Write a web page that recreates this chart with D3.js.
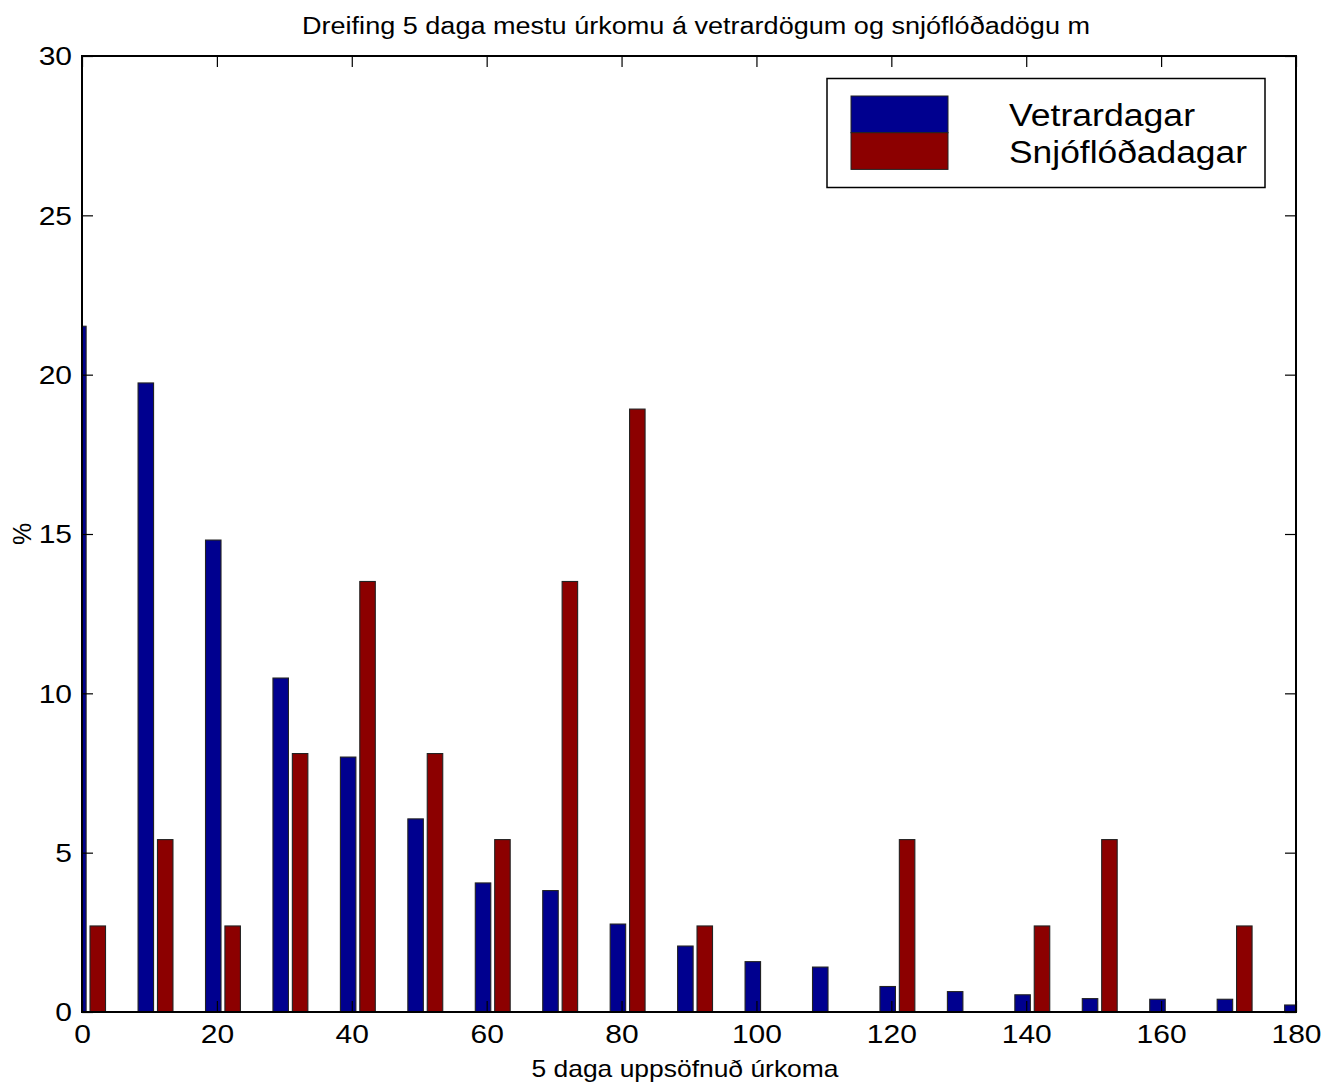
<!DOCTYPE html>
<html>
<head>
<meta charset="utf-8">
<script src="https://cdn.jsdelivr.net/npm/d3@7"></script>
<style>
html,body{margin:0;padding:0;background:#fff;}
text{font-family:"Liberation Sans",Arial,sans-serif;fill:#000;}
</style>
</head>
<body>
<svg id="chart" width="1336" height="1086"></svg>
<script>
// ---- data ----
const categories = [0,10,20,30,40,50,60,70,80,90,100,110,120,130,140,150,160,170,180];
const vetrardagar = [21.52,19.74,14.81,10.48,8.0,6.06,4.05,3.81,2.76,2.07,1.58,1.41,0.80,0.64,0.54,0.42,0.40,0.40,0.22];
const snjofloedadagar = [2.70,5.41,2.70,8.11,13.51,8.11,5.41,13.51,18.92,2.70,0,0,5.41,0,2.70,5.41,0,2.70,0];
const seriesNames = ["Vetrardagar","Snjóflóðadagar"];
const xTicks = [0,20,40,60,80,100,120,140,160,180];
const yTicks = [0,5,10,15,20,25,30];
const title = "Dreifing 5 daga mestu úrkomu á vetrardögum og snjóflóðadögu m";
const xLabel = "5 daga uppsöfnuð úrkoma";
const yLabel = "%";

// ---- layout ----
const L = 82, T = 56, R = 1296, B = 1012;
const colors = ["#00008F","#8C0000"];
const svg = d3.select("#chart");
const x = d3.scaleLinear().domain([0,180]).range([L,R]);
const y = d3.scaleLinear().domain([0,30]).range([B,T]);
const groupShift = 0.9;   // bin-center shift (data units)
const barOff = 9.7, barW = 15.5, tickLen = 11;

function widen(sel, factor){
  sel.each(function(){
    const w = this.getComputedTextLength();
    d3.select(this).attr("textLength", w*factor).attr("lengthAdjust","spacingAndGlyphs");
  });
}
function fitTo(sel, width){
  sel.attr("textLength", width).attr("lengthAdjust","spacingAndGlyphs");
  return sel;
}

svg.append("defs").append("clipPath").attr("id","clip")
  .append("rect").attr("x",L).attr("y",T).attr("width",R-L).attr("height",B-T);

const g = svg.append("g").attr("clip-path","url(#clip)");
const series = [vetrardagar, snjofloedadagar];
series.forEach((vals, si) => {
  g.selectAll(null).data(categories.map((c,i)=>({c, v: vals[i]})).filter(d=>d.v>0))
    .enter().append("rect")
    .attr("x", d => x(d.c + groupShift) + (si===0 ? -barOff : barOff) - barW/2)
    .attr("width", barW)
    .attr("y", d => y(d.v))
    .attr("height", d => y(0) - y(d.v))
    .attr("fill", colors[si])
    .attr("stroke", "#222")
    .attr("stroke-width", 1.1);
});

// axes: box + ticks on all four sides
const axB = svg.append("g").attr("transform",`translate(0,${B})`)
  .call(d3.axisBottom(x).tickValues(xTicks).tickSize(-tickLen).tickPadding(13).tickFormat(d3.format("d")));
const axT = svg.append("g").attr("transform",`translate(0,${T})`)
  .call(d3.axisTop(x).tickValues(xTicks).tickSize(-tickLen).tickFormat(""));
const axL = svg.append("g").attr("transform",`translate(${L},0)`)
  .call(d3.axisLeft(y).tickValues(yTicks).tickSize(-tickLen).tickPadding(10).tickFormat(d3.format("d")));
const axR = svg.append("g").attr("transform",`translate(${R},0)`)
  .call(d3.axisRight(y).tickValues(yTicks).tickSize(-tickLen).tickFormat(""));
[axB,axT,axL,axR].forEach(a=>{
  a.select(".domain").remove();
  a.selectAll("line").attr("stroke","#000").attr("stroke-width",1.2);
  a.selectAll("text").style("font-family","'Liberation Sans',Arial,sans-serif").style("font-size","25px").attr("fill","#000");
});
axB.selectAll("text").attr("dy","0.71em");
axL.selectAll("text").attr("dy","0.35em");
widen(axB.selectAll("text"), 1.2);
widen(axL.selectAll("text"), 1.2);
svg.append("rect").attr("x",L).attr("y",T).attr("width",R-L).attr("height",B-T)
  .attr("fill","none").attr("stroke","#000").attr("stroke-width",2);

// titles
fitTo(svg.append("text").attr("x",696).attr("y",34).attr("text-anchor","middle")
  .style("font-size","23px").text(title), 788);
fitTo(svg.append("text").attr("x",685).attr("y",1077).attr("text-anchor","middle")
  .style("font-size","24px").text(xLabel), 307);
svg.append("text").attr("transform",`translate(31,${(T+B)/2}) rotate(-90)`).attr("text-anchor","middle")
  .style("font-size","25px").text(yLabel);

// legend
const legendWidths = [186, 238];
const lg = svg.append("g");
lg.append("rect").attr("x",827).attr("y",78.5).attr("width",438).attr("height",109)
  .attr("fill","#fff").attr("stroke","#000").attr("stroke-width",1.5);
seriesNames.forEach((n,i)=>{
  lg.append("rect").attr("x",851).attr("y",96+i*36.7).attr("width",97).attr("height",36.7)
    .attr("fill",colors[i]).attr("stroke","#222").attr("stroke-width",1);
  fitTo(lg.append("text").attr("x",1009).attr("y",126+i*37).style("font-size","31px").text(n), legendWidths[i]);
});
</script>
</body>
</html>
